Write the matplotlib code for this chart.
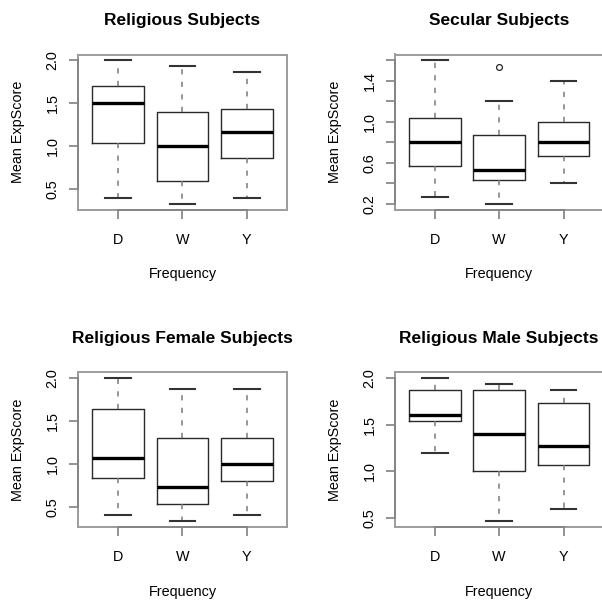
import matplotlib
matplotlib.use("Agg")
import matplotlib.pyplot as plt

plt.rcParams['font.family'] = ['Liberation Sans', 'DejaVu Sans']

W_PX, H_PX, DPI = 602, 600, 100

categories = ["D", "W", "Y"]

# Religious subjects: lower whisker, Q1, median, Q3, upper whisker per group
rel_lo = [0.400, 0.333, 0.400]
rel_q1 = [1.033, 0.600, 0.867]
rel_med = [1.500, 1.000, 1.167]
rel_q3 = [1.700, 1.400, 1.433]
rel_hi = [2.000, 1.933, 1.867]
rel_out = [[], [], []]

# Secular subjects
sec_lo = [0.267, 0.200, 0.400]
sec_q1 = [0.567, 0.433, 0.667]
sec_med = [0.800, 0.533, 0.800]
sec_q3 = [1.033, 0.867, 1.000]
sec_hi = [1.600, 1.200, 1.400]
sec_out = [[], [1.533], []]

# Religious female subjects
fem_lo = [0.400, 0.333, 0.400]
fem_q1 = [0.833, 0.533, 0.800]
fem_med = [1.067, 0.733, 1.000]
fem_q3 = [1.633, 1.300, 1.300]
fem_hi = [2.000, 1.867, 1.867]
fem_out = [[], [], []]

# Religious male subjects
mal_lo = [1.200, 0.467, 0.600]
mal_q1 = [1.533, 1.000, 1.067]
mal_med = [1.600, 1.400, 1.267]
mal_q3 = [1.867, 1.867, 1.733]
mal_hi = [2.000, 1.933, 1.867]
mal_out = [[], [], []]

ticks_a = [0.5, 1.0, 1.5, 2.0]
labels_a = ["0.5", "1.0", "1.5", "2.0"]
ticks_b = [0.2, 0.4, 0.6, 0.8, 1.0, 1.2, 1.4, 1.6]
labels_b = ["0.2", "", "0.6", "", "1.0", "", "1.4", ""]

panels = [
    ("Religious Subjects", (rel_lo, rel_q1, rel_med, rel_q3, rel_hi, rel_out), ticks_a, labels_a),
    ("Secular Subjects", (sec_lo, sec_q1, sec_med, sec_q3, sec_hi, sec_out), ticks_b, labels_b),
    ("Religious Female Subjects", (fem_lo, fem_q1, fem_med, fem_q3, fem_hi, fem_out), ticks_a, labels_a),
    ("Religious Male Subjects", (mal_lo, mal_q1, mal_med, mal_q3, mal_hi, mal_out), ticks_a, labels_a),
]

# axes frames in pixels: left, top, width, height
frames = [
    (78.3, 54.5, 208.4, 155.0),
    (395.0, 54.5, 208.4, 155.0),
    (78.3, 372.0, 208.4, 155.0),
    (395.0, 372.0, 208.4, 155.0),
]

fig = plt.figure(figsize=(W_PX / DPI, H_PX / DPI), dpi=DPI)
fig.patch.set_facecolor("white")


def fx(x):
    return x / W_PX


def fy(y):
    return 1 - y / H_PX


TXT = 10.4
PT = 72.0 / DPI  # points per pixel

for (title, summary, yt, ytl), (left, top, w, h) in zip(panels, frames):
    ax = fig.add_axes([fx(left), fy(top + h), w / W_PX, h / H_PX])
    lo, q1, med, q3, hi, out = summary
    stats = []
    for i, name in enumerate(categories):
        stats.append(dict(label=name, whislo=lo[i], q1=q1[i], med=med[i],
                          q3=q3[i], whishi=hi[i], fliers=out[i]))
    positions = list(range(1, len(categories) + 1))
    ax.bxp(stats, positions=positions, widths=0.8, capwidths=0.4,
           showfliers=True, patch_artist=False,
           boxprops=dict(color="#2a2a2a", linewidth=1.0),
           medianprops=dict(color="black", linewidth=2.4, solid_capstyle="butt"),
           whiskerprops=dict(color="#7a7a7a", linewidth=1.1,
                             linestyle=(0, (3.4, 4.8))),
           capprops=dict(color="#333333", linewidth=1.5),
           flierprops=dict(marker="o", markerfacecolor="none",
                           markeredgecolor="#262626", markersize=4.2,
                           markeredgewidth=0.9, linestyle="none"))

    vals = lo + hi + [v for grp in out for v in grp]
    vmin, vmax = min(vals), max(vals)
    pad = 0.04 * (vmax - vmin)
    ax.set_ylim(vmin - pad, vmax + pad)
    ax.set_xlim(0.38, len(categories) + 0.62)

    for sp in ax.spines.values():
        sp.set_color("#9c9c9c")
        sp.set_linewidth(1.4)

    ax.set_xticks(positions)
    ax.set_xticklabels(categories)
    ax.set_yticks(yt)
    ax.set_yticklabels(ytl)
    ax.tick_params(axis="both", direction="out", length=8.6 * PT, width=1.2,
                   color="#808080", labelsize=TXT, labelcolor="black")
    ax.tick_params(axis="x", pad=(34.0 - 8.6) * PT)
    ax.tick_params(axis="y", pad=(21.6 - 8.6) * PT)
    for lab in ax.get_xticklabels():
        lab.set_verticalalignment("baseline")
    for lab in ax.get_yticklabels():
        lab.set_rotation(90)
        lab.set_rotation_mode("anchor")
        lab.set_horizontalalignment("center")
        lab.set_verticalalignment("baseline")

    # axis lines running between the outer ticks
    ax.plot([positions[0], positions[-1]], [0, 0], transform=ax.get_xaxis_transform(),
            color="#858585", linewidth=1.4, clip_on=False, zorder=5)
    ax.plot([0, 0], [yt[0], yt[-1]], transform=ax.get_yaxis_transform(),
            color="#858585", linewidth=1.4, clip_on=False, zorder=5)

    cx = left + w / 2
    cy = top + h / 2
    fig.text(fx(cx), fy(top - 29.0), title, ha="center", va="baseline",
             fontsize=TXT * 1.2, fontweight="bold", color="black")
    fig.text(fx(cx), fy(top + h + 69.0), "Frequency", ha="center", va="baseline",
             fontsize=TXT, color="black")
    fig.text(fx(left - 56.5), fy(cy), "Mean ExpScore", ha="center", va="baseline",
             rotation=90, rotation_mode="anchor", fontsize=TXT, color="black")

fig.savefig("out.png", dpi=DPI, facecolor="white")
